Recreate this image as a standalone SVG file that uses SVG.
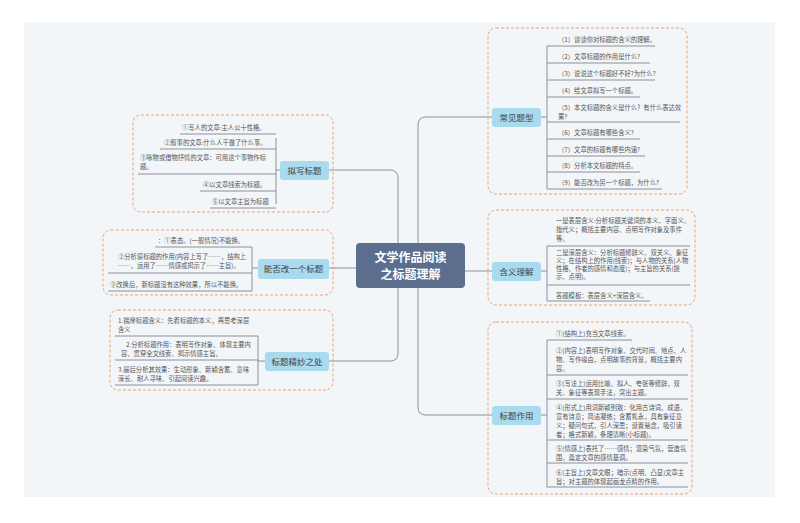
<svg xmlns="http://www.w3.org/2000/svg" width="800" height="523" viewBox="0 0 800 523">
<style>
.t{font-family:"Noto Sans CJK SC","Liberation Sans",sans-serif;font-size:6.3px;fill:#555}
.n{font-family:"Noto Sans CJK SC","Liberation Sans",sans-serif;font-size:8.5px;fill:#444;text-anchor:middle}
.nb{fill:#a9daee;stroke:none}
.box{fill:none;stroke:#f0a070;stroke-width:1;stroke-dasharray:3 2}
.ln{fill:none;stroke:#8c9099;stroke-width:1}
</style>
<rect width="800" height="523" fill="#fff"/>
<rect x="24" y="22" width="751" height="475" fill="#f3f6f9"/>
<g id="connectors" class="ln">
<path d="M398 243V178Q398 170 390 170H329"/>
<path d="M356 268H329"/>
<path d="M398 288V353Q398 361 390 361H329"/>
<path d="M418 243V125Q418 117 426 117H492"/>
<path d="M465 271H492"/>
<path d="M418 288V407Q418 415 426 415H492"/>
<path d="M276 138V204M276 170H280M180 134H276M160 149H276M138 174H276M200 191H276M210 208H276"/>
<path d="M252 247V291M252 268H258M155 247H252M108 273H252M108 291H252"/>
<path d="M258 336V385M258 361H265M115 336H258M115 360H258M115 385H258"/>
<path d="M547 46V189M541 117H547M547 46H655M547 63H650M547 80H655M547 97H640M547 122H680M547 139H640M547 156H645M547 172H640M547 189H662"/>
<path d="M547 246V301M541 271H547M547 246H690M547 285H690M547 301H650"/>
<path d="M547 340V487M541 415H547M547 340H632M547 375H688M547 399H688M547 440H688M547 463H688M547 487H688"/>
</g>
<g id="center">
<rect x="356" y="243" width="109" height="45" rx="4" fill="#5b6e8e"/>
<text x="410.5" y="262" font-family="Noto Sans CJK SC,sans-serif" font-size="12" font-weight="bold" fill="#fff" text-anchor="middle">文学作品阅读</text>
<text x="410.5" y="279" font-family="Noto Sans CJK SC,sans-serif" font-size="12" font-weight="bold" fill="#fff" text-anchor="middle">之标题理解</text>
</g>
<g id="b1">
<rect class="box" x="133" y="115" width="200" height="97" rx="8"/>
<rect class="nb" x="280" y="161" width="49" height="19" rx="3"/><text class="n" x="304.5" y="173.5">拟写标题</text>
<text class="t" x="182" y="130">①写人的文章:主人公十性格。</text>
<text class="t" x="164" y="145">②叙事的文章:什么人干做了什么事。</text>
<text class="t" x="140" y="160">③咏物或借物抒情的文章：可用这个事物作标</text>
<text class="t" x="140" y="169">题。</text>
<text class="t" x="203" y="187">④以文章线索为标题。</text>
<text class="t" x="212" y="204">⑤以文章主旨为标题</text>
</g>
<g id="b2">
<rect class="box" x="103" y="230" width="230" height="65" rx="8"/>
<rect class="nb" x="258" y="259" width="71" height="20" rx="3"/><text class="n" x="293.5" y="272">能否改一个标题</text>
<text class="t" x="158" y="243">：①表态。(一般情况)不能换。</text>
<text class="t" x="118" y="259">②分析原标题的作用(内容上写了……，结构上</text>
<text class="t" x="118" y="268">……，运用了……情感或揭示了……主旨)。</text>
<text class="t" x="110" y="287">③改换后，新标题没有这种效果，所以不能换。</text>
</g>
<g id="b3">
<rect class="box" x="110" y="310" width="223" height="80" rx="8"/>
<rect class="nb" x="265" y="352" width="64" height="19" rx="3"/><text class="n" x="297" y="364.5">标题精妙之处</text>
<text class="t" x="118" y="323">1.揣摩标题含义：先看标题的本义，再思考深层</text>
<text class="t" x="118" y="332">含义</text>
<text class="t" x="126" y="347">2.分析标题作用：表明写作对象、体现主要内</text>
<text class="t" x="121" y="356">容、贯穿全文线索、揭示情感主旨。</text>
<text class="t" x="118" y="372">3.最后分析其效果：生动形象、新颖含蓄、意味</text>
<text class="t" x="118" y="381">深长、耐人寻味、引起阅读兴趣。</text>
</g>
<g id="b4">
<rect class="box" x="488" y="28" width="199" height="166" rx="8"/>
<rect class="nb" x="492" y="108" width="49" height="19" rx="3"/><text class="n" x="516.5" y="120.5">常见题型</text>
<text class="t" x="558" y="42">（1）谈谈你对标题的含义的理解。</text>
<text class="t" x="558" y="59">（2）文章标题的作用是什么?</text>
<text class="t" x="558" y="76">（3）说说这个标题好不好?为什么?</text>
<text class="t" x="558" y="93">（4）给文章拟写一个标题。</text>
<text class="t" x="558" y="110">（5）本文标题的含义是什么？有什么表达效</text>
<text class="t" x="558" y="119">果?</text>
<text class="t" x="558" y="135">（6）文章标题有哪些含义?</text>
<text class="t" x="558" y="152">（7）文章的标题有哪些内涵?</text>
<text class="t" x="558" y="168">（8）分析本文标题的特点。</text>
<text class="t" x="558" y="185">（9）能否改为另一个标题，为什么?</text>
</g>
<g id="b5">
<rect class="box" x="488" y="210" width="207" height="95" rx="8"/>
<rect class="nb" x="492" y="262" width="49" height="19" rx="3"/><text class="n" x="516.5" y="274.5">含义理解</text>
<text class="t" x="556" y="223">一是表层含义:分析标题关键词的本义、字面义、</text>
<text class="t" x="556" y="232">指代义；概括主要内容、点明写作对象及事件</text>
<text class="t" x="556" y="241">等。</text>
<text class="t" x="556" y="255">二是深层含义：分析标题修辞义、双关义、象征</text>
<text class="t" x="556" y="263">义；在结构上的作用(线索)；与人物的关系(人物</text>
<text class="t" x="556" y="271">性格、作者的感情和态度)；与主旨的关系(提</text>
<text class="t" x="556" y="279">示、点明)。</text>
<text class="t" x="556" y="298">答题模板：表层含义+深层含义。</text>
</g>
<g id="b6">
<rect class="box" x="488" y="322" width="204" height="172" rx="8"/>
<rect class="nb" x="492" y="406" width="49" height="19" rx="3"/><text class="n" x="516.5" y="418.5">标题作用</text>
<text class="t" x="556" y="336">①(结构上)充当文章线索。</text>
<text class="t" x="556" y="353">②(内容上)表明写作对象、交代时间、地点、人</text>
<text class="t" x="556" y="362">物、写作缘由，点明故事的背景，概括主要内</text>
<text class="t" x="556" y="371">容。</text>
<text class="t" x="556" y="386">③(写法上)运用比喻、拟人、夸张等修辞，双</text>
<text class="t" x="556" y="395">关、象征等表现手法，突出主题。</text>
<text class="t" x="556" y="410">④(形式上)用词新颖别致：化用古诗词、成语，</text>
<text class="t" x="556" y="419">富有诗意；简洁凝练；含蓄隽永，具有象征意</text>
<text class="t" x="556" y="428">义；疑问句式，引人深思；设置悬念，吸引读</text>
<text class="t" x="556" y="437">者；格式新颖，条理清晰(小标题)。</text>
<text class="t" x="556" y="451">⑤(情感上)表托了……感情；渲染气氛，营造氛</text>
<text class="t" x="556" y="460">围，奠定文章的感情基调。</text>
<text class="t" x="556" y="475">⑥(主旨上)文章文眼；暗示(点明、凸显)文章主</text>
<text class="t" x="556" y="484">旨；对主题的体现起画龙点睛的作用。</text>
</g>
</svg>
